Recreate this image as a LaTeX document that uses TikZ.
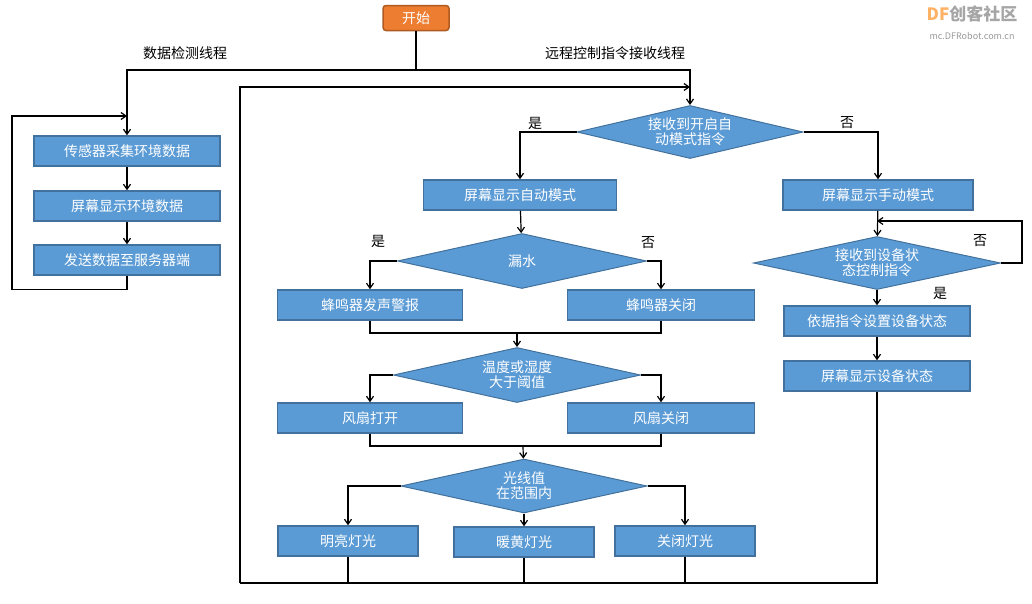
\documentclass[tikz,border=0pt]{standalone}
\usepackage{fontspec}
\setmainfont{Noto Sans CJK SC}
\usetikzlibrary{shapes.geometric,arrows.meta}
\definecolor{bfill}{HTML}{5B9BD5}
\definecolor{bdraw}{HTML}{41719C}
\definecolor{ofill}{HTML}{ED7D31}
\definecolor{odraw}{HTML}{AE5A21}
\begin{document}
\begin{tikzpicture}[x=1pt,y=-1pt,
 box/.style={draw=bdraw,line width=1.5pt,fill=bfill,text=white,minimum height=30pt,inner sep=0pt,font=\fontsize{14}{16}\selectfont},
 dia/.style={diamond,draw=bdraw,line width=1pt,fill=bfill,text=white,inner sep=0pt,aspect=4.4,font=\fontsize{14}{18}\selectfont,align=center},
 ln/.style={line width=1.2pt},
 ar/.style={ln,-{Straight Barb[length=5pt,width=7pt]}},
 lab/.style={font=\fontsize{14}{16}\selectfont}]
\useasboundingbox (0,0) rectangle (1032,603);
\node[draw=odraw,fill=ofill,rounded corners=3pt,line width=1.5pt,text=white,minimum width=66pt,minimum height=25pt,inner sep=0pt,font=\fontsize{14}{16}\selectfont] (start) at (416,18) {开始};
\node[lab] (l1) at (185,53) {数据检测线程};
\node[lab] (l2) at (615,53) {远程控制指令接收线程};
\node[font=\bfseries\fontsize{17}{19}\selectfont,text=gray!70] (logo) at (972,14) {\textcolor{orange!60}{DF}创客社区};
\node[font=\fontsize{9}{10}\selectfont,text=gray!80] (url) at (972,36) {mc.DFRobot.com.cn};
% left column
\node[box,minimum width=186pt] (a1) at (127,151) {传感器采集环境数据};
\node[box,minimum width=186pt] (a2) at (127,206) {屏幕显示环境数据};
\node[box,minimum width=186pt] (a3) at (127,260) {发送数据至服务器端};
% main
\node[dia,minimum width=226pt,minimum height=53pt] (d1) at (690,132) {接收到开启自\\[-3pt]动模式指令};
\node[box,minimum width=193pt] (auto) at (520,195) {屏幕显示自动模式};
\node[box,minimum width=190pt] (man) at (878,195) {屏幕显示手动模式};
\node[dia,minimum width=249pt,minimum height=55pt] (d2) at (522,261) {漏水};
\node[box,minimum width=185pt] (bz1) at (370,305) {蜂鸣器发声警报};
\node[box,minimum width=187pt] (bz2) at (661,305) {蜂鸣器关闭};
\node[dia,minimum width=247pt,minimum height=55pt] (d3) at (517,375) {温度或湿度\\[-3pt]大于阈值};
\node[box,minimum width=185pt] (f1) at (370,418) {风扇打开};
\node[box,minimum width=187pt] (f2) at (661,418) {风扇关闭};
\node[dia,minimum width=246pt,minimum height=54pt] (d4) at (524,486) {光线值\\[-3pt]在范围内};
\node[box,minimum width=140pt] (g1) at (348,541) {明亮灯光};
\node[box,minimum width=140pt] (g2) at (524,542) {暖黄灯光};
\node[box,minimum width=140pt] (g3) at (685,541) {关闭灯光};
\node[dia,minimum width=247pt,minimum height=53pt] (d5) at (877,263) {接收到设备状\\[-3pt]态控制指令};
\node[box,minimum width=186pt] (s1) at (877,321) {依据指令设置设备状态};
\node[box,minimum width=186pt] (s2) at (877,376) {屏幕显示设备状态};
\coordinate (c0) at (416,70);
\coordinate (bot) at (240,583);
% connectors
\draw[ln] (start) -- (c0);
\draw[ar] (c0) -| (a1);
\draw[ar] (c0) -| (d1);
\draw[ar] (a1) -- (a2);
\draw[ar] (a2) -- (a3);
\draw[ar] (a3.south) -- ++(0,14) -| (12,116) -- (127,116);
\draw[ar] (bot) |- (690,87);
\draw[ar] (d1.west) -| (auto);
\draw[ar] (d1.east) -| (man);
\node[lab] at (535,123) {是};
\node[lab] at (847,123) {否};
\draw[ar] (auto) -- (d2);
\draw[ar] (d2.west) -| (bz1);
\draw[ar] (d2.east) -| (bz2);
\node[lab] at (378,241) {是};
\node[lab] at (648,243) {否};
\draw[ln] (bz1) |- (517,333);
\draw[ln] (bz2) |- (517,333);
\draw[ar] (517,333) -- (d3);
\draw[ar] (d3.west) -| (f1);
\draw[ar] (d3.east) -| (f2);
\draw[ln] (f1) |- (523,446);
\draw[ln] (f2) |- (523,446);
\draw[ar] (523,446) -- (d4);
\draw[ar] (d4.west) -| (g1);
\draw[ar] (d4.east) -| (g3);
\draw[ar] (d4.south) -- (g2);
\draw[ln] (g1) -- (348,583);
\draw[ln] (g2) -- (524,583);
\draw[ln] (g3) -- (685,583);
\draw[ln] (s2) |- (bot);
\draw[ar] (man) -- (d5);
\draw[ar] (d5.east) -- (1022,263) |- (877,221);
\node[lab] at (980,241) {否};
\draw[ar] (d5) -- (s1);
\node[lab] at (940,293) {是};
\draw[ar] (s1) -- (s2);
\end{tikzpicture}
\end{document}
